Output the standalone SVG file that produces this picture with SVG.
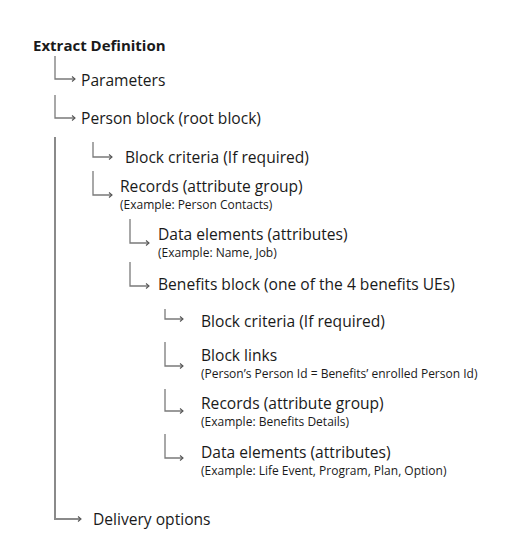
<svg xmlns="http://www.w3.org/2000/svg" width="522" height="555" viewBox="0 0 522 555">
<style>
.t{font-family:"Open Sans","Noto Sans",sans-serif;font-size:15.6px;fill:#1a1a1a}
.s{font-family:"Open Sans","Noto Sans",sans-serif;font-size:12px;fill:#1a1a1a}
.b{font-family:"Open Sans","Noto Sans",sans-serif;font-size:15px;font-weight:bold;fill:#1a1a1a}
.c{fill:none;stroke:#7a7a7a;stroke-width:1.3}
.m{fill:none;stroke:#8a8a8a;stroke-width:2}
</style>
<defs>
<marker id="ah" markerWidth="8" markerHeight="8" refX="6" refY="4" orient="auto" markerUnits="userSpaceOnUse">
<path d="M3,1.5 L6,4 L3,6.5" fill="none" stroke="#555" stroke-width="1.1"/>
</marker>
</defs>
<g id="connectors">
<path class="c" d="M55,56 V79 H75" marker-end="url(#ah)"/>
<path class="c" d="M55,95 V118 H75" marker-end="url(#ah)"/>
<path class="m" d="M55,137 V519 H80"/>
<path d="M78,516.5 L81,519 L78,521.5" fill="none" stroke="#555" stroke-width="1.1"/>
<path class="c" d="M93,142 V157 H112" marker-end="url(#ah)"/>
<path class="c" d="M93,171 V195 H112" marker-end="url(#ah)"/>
<path class="c" d="M130,219 V243 H149" marker-end="url(#ah)"/>
<path class="c" d="M130,262 V286 H149" marker-end="url(#ah)"/>
<path class="c" d="M165,309 V319 H183" marker-end="url(#ah)"/>
<path class="c" d="M165,342 V366 H183" marker-end="url(#ah)"/>
<path class="c" d="M165,389 V411 H183" marker-end="url(#ah)"/>
<path class="c" d="M165,434 V458 H183" marker-end="url(#ah)"/>
</g>
<g id="n-extract"><text class="b" x="33" y="51">Extract Definition</text></g>
<g id="n-params"><text class="t" x="81" y="86">Parameters</text></g>
<g id="n-person"><text class="t" x="81" y="124">Person block (root block)</text></g>
<g id="n-crit1"><text class="t" x="125" y="163">Block criteria (If required)</text></g>
<g id="n-rec1"><text class="t" x="120" y="191.5">Records (attribute group)</text><text class="s" x="120" y="208.5">(Example: Person Contacts)</text></g>
<g id="n-data1"><text class="t" x="158" y="239.5">Data elements (attributes)</text><text class="s" x="158" y="256.5">(Example: Name, Job)</text></g>
<g id="n-benefits"><text class="t" x="158" y="290">Benefits block (one of the 4 benefits UEs)</text></g>
<g id="n-crit2"><text class="t" x="201" y="327">Block criteria (If required)</text></g>
<g id="n-links"><text class="t" x="201" y="360.5">Block links</text><text class="s" x="201" y="378">(Person’s Person Id = Benefits’ enrolled Person Id)</text></g>
<g id="n-rec2"><text class="t" x="201" y="408.5">Records (attribute group)</text><text class="s" x="201" y="425.5">(Example: Benefits Details)</text></g>
<g id="n-data2"><text class="t" x="201" y="457.5">Data elements (attributes)</text><text class="s" x="201" y="474.5">(Example: Life Event, Program, Plan, Option)</text></g>
<g id="n-delivery"><text class="t" x="93" y="525">Delivery options</text></g>
</svg>
